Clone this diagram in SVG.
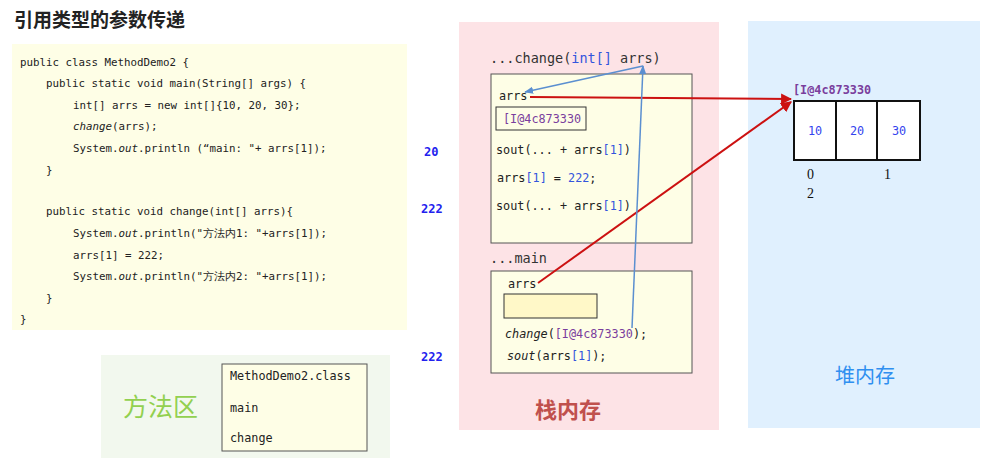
<svg xmlns="http://www.w3.org/2000/svg" width="992" height="467" viewBox="0 0 992 467">
<style>
.code{font-family:"DejaVu Sans Mono","Liberation Mono",monospace;font-size:10.8px;fill:#222}
.mono{font-family:"DejaVu Sans Mono","Liberation Mono",monospace;font-size:11.8px;fill:#222}
.big{font-family:"DejaVu Sans Mono","Liberation Mono",monospace;font-size:13.5px;fill:#333}
.blue{fill:#3355dd}
.purple{fill:#7a3e9d}
.num{font-family:"DejaVu Sans Mono","Liberation Mono",monospace;font-size:12px;font-weight:bold;fill:#2222ee}
.idx{font-family:"Liberation Serif","DejaVu Serif",serif;font-size:14px;fill:#111}
.cjk{font-family:"Noto Sans CJK SC",sans-serif}
.red{stroke:#cc1111;stroke-width:2;fill:none}
.bl{stroke:#5b8fd0;stroke-width:1.5;fill:none}
</style>
<defs>
<marker id="ar" viewBox="0 0 10 10" refX="9" refY="5" markerWidth="5.5" markerHeight="5.5" orient="auto"><path d="M0,0L10,5L0,10z" fill="#cc1111"/></marker>
<marker id="ab" viewBox="0 0 10 10" refX="9" refY="5" markerWidth="6" markerHeight="6" orient="auto"><path d="M0,1L10,5L0,9z" fill="#5b8fd0"/></marker>
</defs>
<rect width="992" height="467" fill="#fff"/>
<text x="14" y="27" class="cjk" font-size="19" font-weight="bold" fill="#222">引用类型的参数传递</text>

<g id="code">
<rect x="12" y="44" width="395" height="286" fill="#fefee6"/>
<text class="code" x="20" y="66">public class MethodDemo2 {</text>
<text class="code" x="46" y="87">public static void main(String[] args) {</text>
<text class="code" x="73" y="109">int[] arrs = new int[]{10, 20, 30};</text>
<text class="code" x="73" y="130"><tspan font-style="italic">change</tspan>(arrs);</text>
<text class="code" x="73" y="152">System.<tspan font-style="italic">out</tspan>.println (“main: "+ arrs[1]);</text>
<text class="code" x="46" y="174">}</text>
<text class="code" x="46" y="215">public static void change(int[] arrs){</text>
<text class="code" x="73" y="237">System.<tspan font-style="italic">out</tspan>.println("方法内1: "+arrs[1]);</text>
<text class="code" x="73" y="259">arrs[1] = 222;</text>
<text class="code" x="73" y="280">System.<tspan font-style="italic">out</tspan>.println("方法内2: "+arrs[1]);</text>
<text class="code" x="46" y="302">}</text>
<text class="code" x="20" y="323">}</text>
</g>

<g id="outputs">
<text class="num" x="424" y="156">20</text>
<text class="num" x="421" y="213">222</text>
<text class="num" x="421" y="361">222</text>
</g>

<g id="method-area">
<rect x="101" y="355" width="289" height="103" fill="#f2f8ee"/>
<text x="123" y="416" class="cjk" font-size="25" fill="#92d050">方法区</text>
<rect x="222" y="364" width="145" height="87" fill="#fefee6" stroke="#555" stroke-width="1"/>
<text class="mono" x="230" y="380">MethodDemo2.class</text>
<text class="mono" x="230" y="412">main</text>
<text class="mono" x="230" y="442">change</text>
</g>

<g id="stack">
<rect x="459" y="22" width="260" height="408" fill="#fde3e6"/>
<text class="big" x="490" y="63">...change(<tspan class="blue">int[]</tspan> arrs)</text>
<text class="big" x="490" y="263">...main</text>
<text x="535" y="418" class="cjk" font-size="22" font-weight="bold" fill="#c0504d">栈内存</text>
</g>

<g id="change-frame">
<rect x="491" y="74" width="201" height="169" fill="#fefee6" stroke="#555" stroke-width="1"/>
<text class="mono" x="499" y="100">arrs</text>
<rect x="496" y="107" width="90" height="23" fill="#fefee6" stroke="#333" stroke-width="1"/>
<text class="mono purple" x="503" y="123">[I@4c873330</text>
<text class="mono" x="496" y="154">sout(... + arrs<tspan class="blue">[1]</tspan>)</text>
<text class="mono" x="497" y="182">arrs<tspan class="blue">[1]</tspan> = <tspan class="blue">222</tspan>;</text>
<text class="mono" x="496" y="210">sout(... + arrs<tspan class="blue">[1]</tspan>)</text>
</g>

<g id="main-frame">
<rect x="491" y="271" width="201" height="102" fill="#fefee6" stroke="#555" stroke-width="1"/>
<text class="mono" x="508" y="288">arrs</text>
<rect x="504" y="294" width="93" height="24" fill="#fff8c8" stroke="#333" stroke-width="1"/>
<text class="mono" x="505" y="338"><tspan font-style="italic">change</tspan>(<tspan class="purple">[I@4c873330</tspan>);</text>
<text class="mono" x="507" y="360"><tspan font-style="italic">sout</tspan>(arrs<tspan class="blue">[1]</tspan>);</text>
</g>

<g id="heap">
<rect x="748" y="21" width="232" height="407" fill="#e0f0fe"/>
<text class="mono purple" x="793" y="94" font-weight="bold">[I@4c873330</text>
<rect x="794" y="101" width="126" height="59" fill="#fff" stroke="#111" stroke-width="2"/>
<line x1="836" y1="101" x2="836" y2="160" stroke="#111" stroke-width="2"/>
<line x1="877" y1="101" x2="877" y2="160" stroke="#111" stroke-width="2"/>
<text class="mono" x="815" y="135" text-anchor="middle" style="fill:#3344ee">10</text>
<text class="mono" x="857" y="135" text-anchor="middle" style="fill:#3344ee">20</text>
<text class="mono" x="899" y="135" text-anchor="middle" style="fill:#3344ee">30</text>
<text class="idx" x="807" y="179">0</text>
<text class="idx" x="884" y="179">1</text>
<text class="idx" x="807" y="198">2</text>
<text x="835" y="383" class="cjk" font-size="20" fill="#2f8ff0">堆内存</text>
</g>

<g id="connectors">
<line class="red" x1="530" y1="97" x2="791" y2="99" marker-end="url(#ar)"/>
<line class="red" x1="538" y1="283" x2="791" y2="102" marker-end="url(#ar)"/>
<line class="bl" x1="632" y1="328" x2="643" y2="66" marker-end="url(#ab)"/>
<line class="bl" x1="643" y1="66" x2="525" y2="92" marker-end="url(#ab)"/>
</g>
</svg>
